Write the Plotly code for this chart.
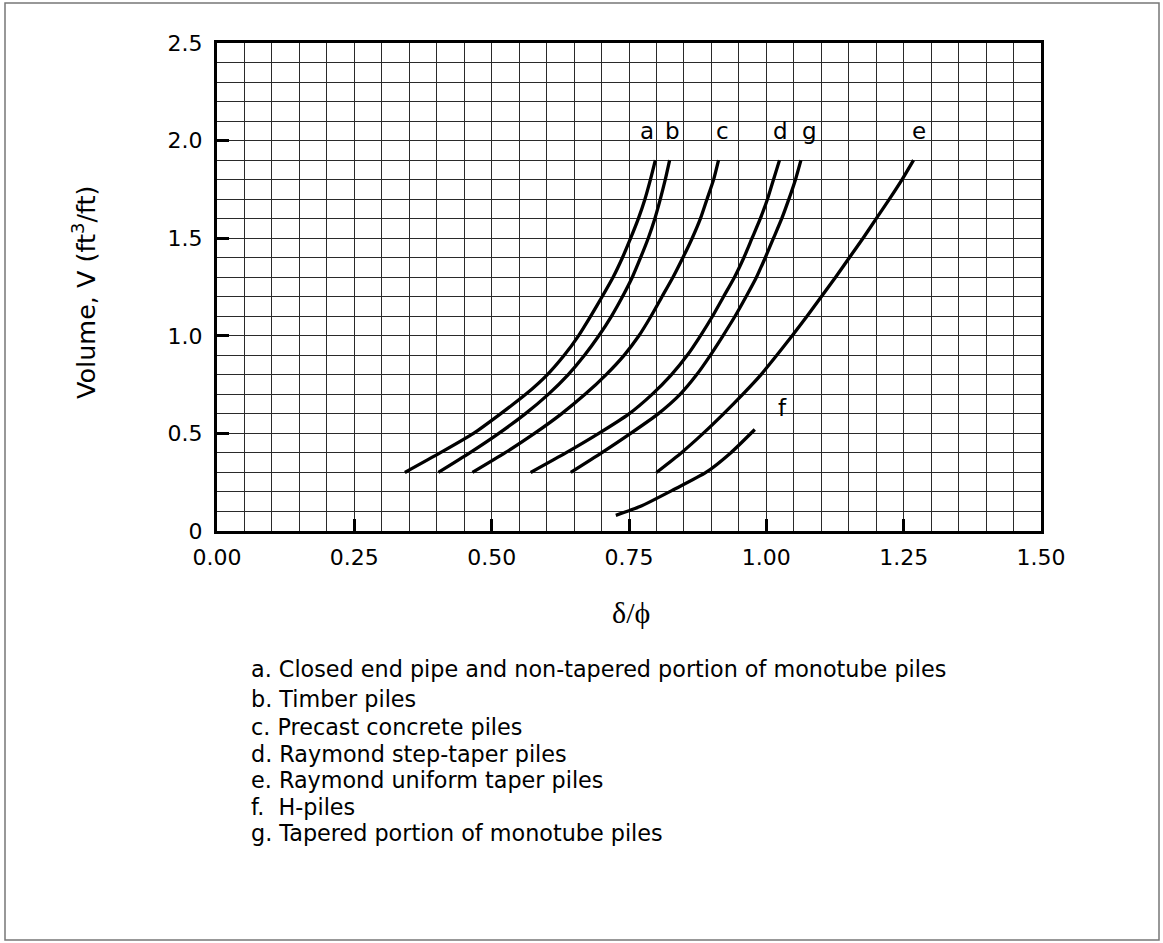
import plotly.graph_objects as go

# curve points (delta/phi, volume ft3/ft)
a_x = [0.342, 0.406, 0.467, 0.516, 0.562, 0.601, 0.632, 0.658, 0.680, 0.701, 0.721, 0.738, 0.753, 0.767, 0.779, 0.789, 0.798]
a_y = [0.3, 0.4, 0.5, 0.6, 0.7, 0.8, 0.9, 1.0, 1.1, 1.2, 1.3, 1.4, 1.5, 1.6, 1.7, 1.8, 1.9]

b_x = [0.403, 0.460, 0.513, 0.561, 0.603, 0.639, 0.669, 0.695, 0.718, 0.738, 0.756, 0.771, 0.785, 0.797, 0.807, 0.816, 0.824]
b_y = [0.3, 0.4, 0.5, 0.6, 0.7, 0.8, 0.9, 1.0, 1.1, 1.2, 1.3, 1.4, 1.5, 1.6, 1.7, 1.8, 1.9]

c_x = [0.465, 0.524, 0.578, 0.627, 0.670, 0.708, 0.741, 0.768, 0.790, 0.810, 0.830, 0.848, 0.865, 0.880, 0.892, 0.904, 0.913]
c_y = [0.3, 0.4, 0.5, 0.6, 0.7, 0.8, 0.9, 1.0, 1.1, 1.2, 1.3, 1.4, 1.5, 1.6, 1.7, 1.8, 1.9]

d_x = [0.571, 0.635, 0.695, 0.750, 0.792, 0.827, 0.856, 0.880, 0.902, 0.922, 0.942, 0.959, 0.974, 0.989, 1.002, 1.013, 1.024]
d_y = [0.3, 0.4, 0.5, 0.6, 0.7, 0.8, 0.9, 1.0, 1.1, 1.2, 1.3, 1.4, 1.5, 1.6, 1.7, 1.8, 1.9]

e_x = [0.800, 0.845, 0.885, 0.922, 0.957, 0.990, 1.019, 1.047, 1.074, 1.100, 1.126, 1.151, 1.176, 1.200, 1.224, 1.247, 1.268]
e_y = [0.3, 0.4, 0.5, 0.6, 0.7, 0.8, 0.9, 1.0, 1.1, 1.2, 1.3, 1.4, 1.5, 1.6, 1.7, 1.8, 1.9]

f_x = [0.726, 0.770, 0.830, 0.890, 0.935, 0.979]
f_y = [0.08, 0.125, 0.21, 0.30, 0.40, 0.52]

g_x = [0.644, 0.700, 0.753, 0.803, 0.843, 0.873, 0.898, 0.921, 0.943, 0.963, 0.982, 0.998, 1.013, 1.028, 1.041, 1.053, 1.063]
g_y = [0.3, 0.4, 0.5, 0.6, 0.7, 0.8, 0.9, 1.0, 1.1, 1.2, 1.3, 1.4, 1.5, 1.6, 1.7, 1.8, 1.9]

curves = {"a": (a_x, a_y), "b": (b_x, b_y), "c": (c_x, c_y), "d": (d_x, d_y),
          "e": (e_x, e_y), "f": (f_x, f_y), "g": (g_x, g_y)}

# letter labels next to the curve ends
label_names = ["a", "b", "c", "d", "g", "e", "f"]
label_x = [0.782, 0.829, 0.920, 1.026, 1.079, 1.277, 1.030]
label_y = [2.048, 2.048, 2.048, 2.048, 2.048, 2.048, 0.631]

x_ticks = [0.0, 0.25, 0.5, 0.75, 1.0, 1.25, 1.5]
x_tick_text = ["0.00", "0.25", "0.50", "0.75", "1.00", "1.25", "1.50"]
y_ticks = [0.0, 0.5, 1.0, 1.5, 2.0, 2.5]
y_tick_text = ["0", "0.5", "1.0", "1.5", "2.0", "2.5"]

legend_lines = [
    "a. Closed end pipe and non-tapered portion of monotube piles",
    "b. Timber piles",
    "c. Precast concrete piles",
    "d. Raymond step-taper piles",
    "e. Raymond uniform taper piles",
    "f.\u00a0 H-piles",
    "g. Tapered portion of monotube piles",
]

W, H = 1163, 943
L, R, T, B = 217, 1041, 43, 531  # plot area in pixels


def px_x(p):
    return (p - L) / (R - L)


def px_y(p):
    return (B - p) / (B - T)


FONT = "DejaVu Sans, Arial, sans-serif"

fig = go.Figure()
for name, (xs, ys) in curves.items():
    fig.add_trace(go.Scatter(x=xs, y=ys, mode="lines", name=name,
                             line=dict(color="black", width=3.3, shape="spline", smoothing=0.6),
                             hoverinfo="skip"))

for n, lx, ly in zip(label_names, label_x, label_y):
    fig.add_annotation(x=lx, y=ly, text=n, showarrow=False,
                       font=dict(size=23, color="black", family=FONT),
                       xanchor="center", yanchor="middle")

# legend text under the plot
legend_base = [677, 707, 735, 762, 788, 815, 841]
for txt, base in zip(legend_lines, legend_base):
    fig.add_annotation(x=px_x(249), y=px_y(base - 8), xref="paper", yref="paper",
                       text=txt, showarrow=False, xanchor="left", yanchor="middle",
                       font=dict(size=22.3, color="black", family=FONT))

# axis titles
fig.add_annotation(x=px_x(84), y=px_y(292), xref="paper", yref="paper",
                   text="Volume, V (ft<sup>3</sup>/ft)", textangle=-90, showarrow=False,
                   xanchor="center", yanchor="middle",
                   font=dict(size=25.5, color="black", family=FONT))
fig.add_annotation(x=px_x(631), y=px_y(612), xref="paper", yref="paper",
                   text="δ/ϕ", showarrow=False, xanchor="center", yanchor="middle",
                   font=dict(size=30, color="black", family="Liberation Serif, Times New Roman, serif"))

# outer frame around the whole picture
fig.add_shape(type="rect", xref="paper", yref="paper",
              x0=px_x(5), x1=px_x(1159), y0=px_y(940), y1=px_y(3),
              line=dict(color="#777", width=1.5))

fig.update_xaxes(range=[0, 1.5], tickvals=x_ticks, ticktext=x_tick_text,
                 ticks="inside", ticklen=12, tickwidth=3, tickcolor="black",
                 showline=True, linewidth=3, linecolor="black", mirror=True,
                 showgrid=True, gridcolor="#2a2a2a", gridwidth=1,
                 minor=dict(dtick=0.05, showgrid=True, gridcolor="#2a2a2a", gridwidth=1),
                 tickfont=dict(size=22, color="black", family=FONT),
                 ticklabelstandoff=5, zeroline=False)
fig.update_yaxes(range=[0, 2.5], tickvals=y_ticks, ticktext=y_tick_text,
                 ticks="inside", ticklen=12, tickwidth=3, tickcolor="black",
                 showline=True, linewidth=3, linecolor="black", mirror=True,
                 showgrid=True, gridcolor="#2a2a2a", gridwidth=1,
                 minor=dict(dtick=0.1, showgrid=True, gridcolor="#2a2a2a", gridwidth=1),
                 tickfont=dict(size=22, color="black", family=FONT),
                 ticklabelstandoff=7, zeroline=False)

fig.update_layout(width=W, height=H, showlegend=False,
                  margin=dict(l=L, r=W - R, t=T, b=H - B),
                  plot_bgcolor="white", paper_bgcolor="white")

# drop the default page margin so the figure sits at the window corner
fig.write_html("out.html", config={"displayModeBar": False},
               post_script="document.body.style.margin='0';document.body.style.overflow='hidden';")
